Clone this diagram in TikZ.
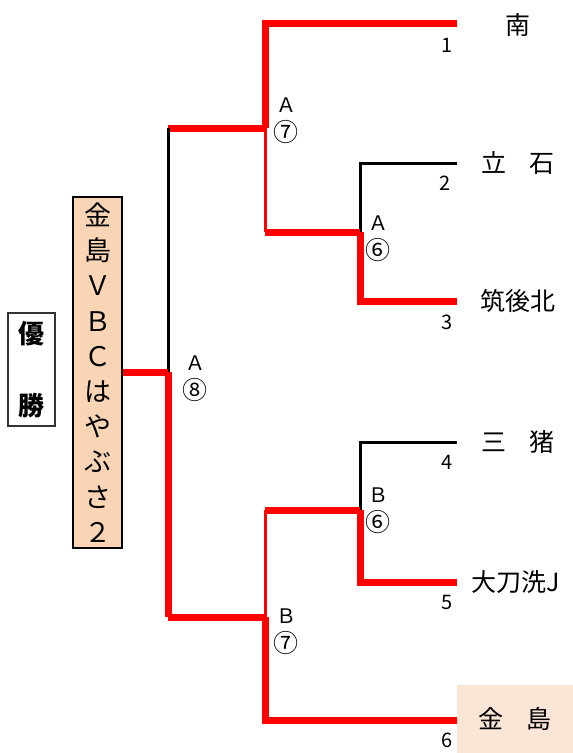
\documentclass[tikz,border=0pt]{standalone}
\usepackage{fontspec}
\setmainfont{Noto Sans CJK JP}
\usetikzlibrary{positioning}
\definecolor{peach}{RGB}{249,213,182}
\definecolor{lightpeach}{RGB}{251,229,214}
\definecolor{winred}{RGB}{255,0,0}
\newcommand{\circnum}[1]{{\fontsize{25}{26}\selectfont #1}}

\begin{document}
\begin{tikzpicture}[
        x=1pt, y=-1pt,
        win/.style={draw=winred, line width=7pt},
        winthin/.style={draw=winred, line width=3pt},
        lose/.style={draw=black, line width=3pt},
        team/.style={inner sep=0pt, font=\fontsize{25}{25}\selectfont},
        num/.style={inner sep=0pt, font=\fontsize{20}{20}\selectfont},
        tag/.style={inner sep=0pt, align=center, font=\fontsize{20}{26}\selectfont}
    ]
        \useasboundingbox (0,0) rectangle (573,753);

        % Entry points and junctions
        \coordinate (t1) at (457,23);
        \coordinate (t2) at (457,163);
        \coordinate (t3) at (457,301);
        \coordinate (t4) at (457,442);
        \coordinate (t5) at (457,582);
        \coordinate (t6) at (457,720);
        \coordinate (sfA) at (360,232);
        \coordinate (sfB) at (360,510);
        \coordinate (qA) at (265,128);
        \coordinate (qB) at (265,617);
        \coordinate (fin) at (168,372);

        % Boxes
        \node[fill=lightpeach, minimum width=116, minimum height=68, inner sep=0pt] (kbox) at (515,719) {};
        \node[draw, line width=2.5pt, fill=peach, minimum width=49, minimum height=351, inner sep=0pt,
              align=center, font=\fontsize{27}{35.2}\selectfont] (champ) at (97.5,372.5)
              {金\\島\\Ｖ\\Ｂ\\Ｃ\\は\\や\\ぶ\\さ\\２};
        \node[draw=black!80, line width=2pt, fill=white, minimum width=47, minimum height=113, inner sep=0pt,
              align=center, font=\fontsize{26}{72}\selectfont\bfseries] (yusho) at (31.5,369.5) {優\\勝};

        % Block A
        \draw[lose] (t2) -| (sfA);
        \draw[win] (t3) -| (sfA);
        \draw[win] (sfA) -- (sfA -| qA);
        \draw[winthin] (sfA -| qA) -- (qA);
        \draw[win] (t1) -| (qA);
        \draw[win] (qA) -- (qA -| fin);

        % Block B
        \draw[lose] (t4) -| (sfB);
        \draw[win] (t5) -| (sfB);
        \draw[win] (sfB) -- (sfB -| qB);
        \draw[winthin] (sfB -| qB) -- (qB);
        \draw[win] (t6) -| (qB);
        \draw[win] (qB) -- (qB -| fin);

        % Final
        \draw[lose] (qA -| fin) -- (fin);
        \draw[win] (qB -| fin) -- (fin);
        \draw[win] (fin) -- (champ.east |- fin);

        % Match labels
        \node[tag] (m8) at (195,379) {Ａ\\[3pt]\circnum{⑧}};
        \node[tag] (m7a) at (286,121) {Ａ\\[3pt]\circnum{⑦}};
        \node[tag] (m6a) at (378,239) {Ａ\\[3pt]\circnum{⑥}};
        \node[tag] (m6b) at (378,511) {Ｂ\\[3pt]\circnum{⑥}};
        \node[tag] (m7b) at (286,632) {Ｂ\\[3pt]\circnum{⑦}};

        % Numbers
        \node[num] (n1) at (447,45) {1};
        \node[num] (n2) at (445,183) {2};
        \node[num] (n3) at (447,322) {3};
        \node[num] (n4) at (447,462) {4};
        \node[num] (n5) at (447,602) {5};
        \node[num] (n6) at (447,740) {6};

        % Teams
        \node[team] (s1) at (518,25) {南};
        \node[team] (s2) at (518,163) {立\hspace{23pt}石};
        \node[team] (s3) at (518,301) {筑後北};
        \node[team] (s4) at (518,442) {三\hspace{23pt}猪};
        \node[team] (s5) at (516,582) {大刀洗J};
        \node[team] (s6) at (kbox) {金\hspace{23pt}島};
    \end{tikzpicture}
\end{document}
